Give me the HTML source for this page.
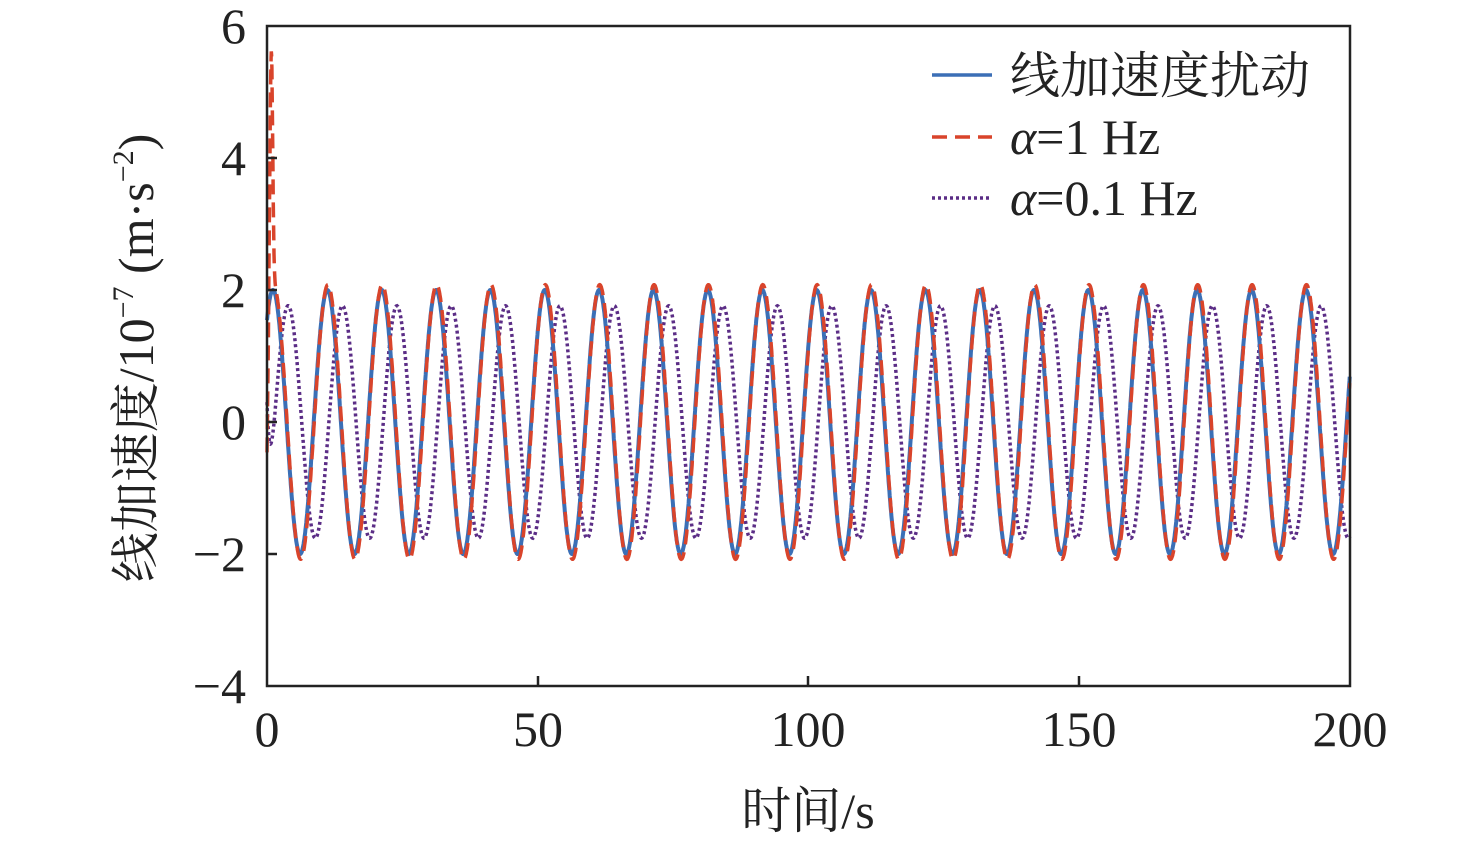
<!DOCTYPE html>
<html><head><meta charset="utf-8"><style>
body{margin:0;background:#fff;}
text{font-family:"Liberation Serif","Noto Serif CJK SC",serif;fill:#222;}
</style></head><body>
<svg id="s" width="1476" height="844" xmlns="http://www.w3.org/2000/svg">
<g font-size="50" text-anchor="end">
<text x="246" y="43">6</text><text x="246" y="175">4</text><text x="246" y="307">2</text>
<text x="246" y="439">0</text><text x="246" y="571">−2</text><text x="246" y="703">−4</text>
</g>
<g font-size="50" text-anchor="middle">
<text x="267" y="746">0</text><text x="538" y="746">50</text><text x="808" y="746">100</text>
<text x="1079" y="746">150</text><text x="1350" y="746">200</text>
<text x="808" y="828">时间/s</text>
</g>
<text font-size="50" text-anchor="middle" transform="translate(153,358) rotate(-90)">线加速度/10<tspan font-size="30" dy="-20">−7</tspan><tspan dy="20"> (m·s</tspan><tspan font-size="30" dy="-20">−2</tspan><tspan dy="20">)</tspan></text>
<g id="plot"></g>
<rect x="267" y="26" width="1083" height="660" fill="none" stroke="#222" stroke-width="2.5"/>
<g stroke="#222" stroke-width="2.5">
<line x1="267" y1="158" x2="277" y2="158"/><line x1="267" y1="290" x2="277" y2="290"/>
<line x1="267" y1="422" x2="277" y2="422"/><line x1="267" y1="554" x2="277" y2="554"/>
<line x1="538" y1="686" x2="538" y2="676"/><line x1="808" y1="686" x2="808" y2="676"/>
<line x1="1079" y1="686" x2="1079" y2="676"/>
</g>
<g stroke-width="3.5" fill="none">
<line x1="932" y1="75" x2="992" y2="75" stroke="#3b6fb6"/>
<line x1="932" y1="137" x2="992" y2="137" stroke="#d9442b" stroke-dasharray="15,8"/>
<line x1="932" y1="198" x2="992" y2="198" stroke="#5b2d86" stroke-dasharray="3,3"/>
</g>
<g font-size="50">
<text x="1010" y="93">线加速度扰动</text>
<text x="1010" y="154"><tspan font-style="italic">α</tspan>=1 Hz</text>
<text x="1010" y="215"><tspan font-style="italic">α</tspan>=0.1 Hz</text>
</g>
</svg>
<script>
var X=t=>267+t*5.415,Y=v=>422-v*66;
function mk(f,c,d,sw){var p=[];for(var t=0;t<=200;t+=0.05)p.push(X(t).toFixed(1)+","+Y(f(t)).toFixed(1));
var e=document.createElementNS("http://www.w3.org/2000/svg","polyline");e.setAttribute("points",p.join(" "));
e.setAttribute("fill","none");e.setAttribute("stroke",c);e.setAttribute("stroke-width",sw||"3");if(d)e.setAttribute("stroke-dasharray",d);
document.getElementById("plot").appendChild(e);}
var w=2*Math.PI/10.04;
mk(t=>1.76*Math.cos(w*(t-3.9))*(1-Math.exp(-t*1.5))+0.3*Math.exp(-t),"#5b2d86","3,3","3.5");
mk(t=>2*Math.cos(w*(t-1.1)),"#3b6fb6",null,"4");
mk(t=>2.08*Math.cos(w*(t-1.2))+(t<3?3.6*Math.exp(-Math.pow((t-0.8)/0.35,2)):0)-(t<0.4?2.5*(0.4-t)*2:0),"#d9442b","15,8","3.5");
</script>
</body></html>
